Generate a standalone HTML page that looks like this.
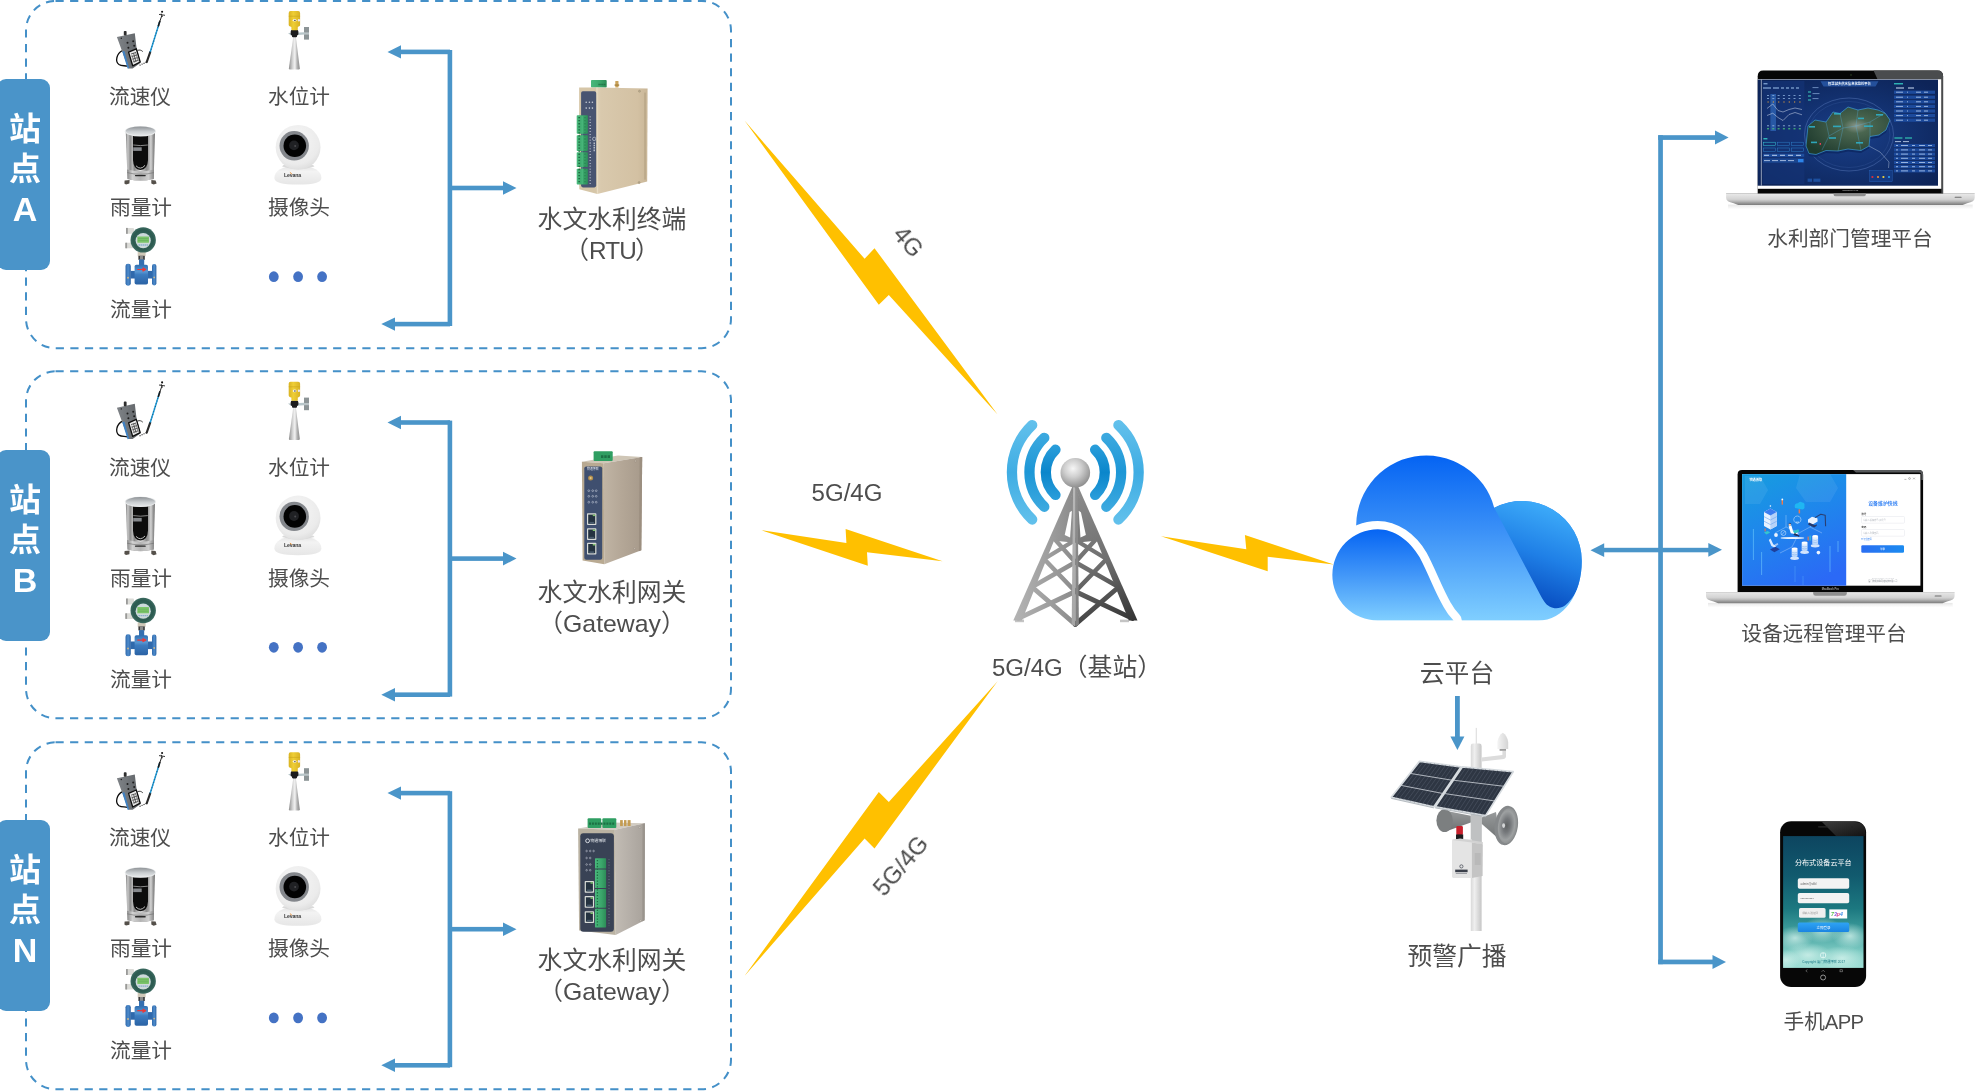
<!DOCTYPE html>
<html lang="zh-CN">
<head>
<meta charset="utf-8">
<title>水文水利监测系统拓扑图</title>
<style>
html,body{margin:0;padding:0;background:#fff;}
body{width:1978px;height:1091px;position:relative;overflow:hidden;font-family:"Liberation Sans","Noto Sans CJK SC",sans-serif;color:#4d4d4d;}
#stage{position:absolute;left:0;top:0;width:1978px;height:1091px;}
.t{position:absolute;white-space:nowrap;text-align:center;transform:translateX(-50%);line-height:1;}
.t,.rot,.tab,svg{will-change:transform;}
.latU{font-size:.98em;letter-spacing:-.035em;margin-right:-.035em;}
.latN{font-size:.97em;}
.s21{font-size:20.7px;}
.s25{font-size:24.8px;}
.tab{position:absolute;left:-3px;width:53.2px;height:191px;border-radius:9px;background:#4a94c9;color:#fff;font-weight:700;font-size:32px;line-height:40px;text-align:center;box-sizing:border-box;padding-left:3px;}
.tab span{display:block;}
.rot{position:absolute;white-space:nowrap;line-height:1;font-size:24.5px;transform-origin:50% 50%;}
svg text{font-family:"Liberation Sans","Noto Sans CJK SC",sans-serif;}
</style>
</head>
<body>
<svg id="stage" width="1978" height="1091" viewBox="0 0 1978 1091">
<defs>
  <g id="arrowsL">
    <!-- bracket with arrows, local origin = station box top (y=0) -->
    <rect x="447.6" y="50" width="4.6" height="276" fill="#4a95c9"/>
    <rect x="399" y="49.6" width="51" height="4.6" fill="#4a95c9"/>
    <polygon points="387.5,51.9 401,45.2 401,58.6" fill="#4a95c9"/>
    <rect x="393" y="321.8" width="57" height="4.6" fill="#4a95c9"/>
    <polygon points="381.3,324.1 395,317.4 395,330.8" fill="#4a95c9"/>
    <rect x="450" y="185.7" width="54" height="4.6" fill="#4a95c9"/>
    <polygon points="516.5,188 503,181.2 503,194.8" fill="#4a95c9"/>
  </g>
</defs>
<!-- station boxes -->
<g fill="none" stroke="#4490c8" stroke-width="2" stroke-dasharray="8.2 6.4">
  <rect x="26" y="0.9" width="705" height="347.3" rx="29.5" ry="29.5"/>
  <rect x="26" y="371.3" width="705" height="347" rx="29.5" ry="29.5"/>
  <rect x="26" y="742.3" width="705" height="347" rx="29.5" ry="29.5"/>
</g>
<use href="#arrowsL" x="0" y="0"/>
<use href="#arrowsL" x="0" y="370.6"/>
<use href="#arrowsL" x="0" y="741.2"/>
<!-- lightning bolts -->
<g fill="#ffc000">
  <polygon points="744.5,120.6 864.6,258.8 874.5,248.2 997.6,414.5 888.8,295 878.8,304.7"/>
  <polygon points="761.4,530.2 846.4,543.1 845.6,529.1 942.6,561.2 867,552.2 867.8,565.7"/>
  <polygon points="744.5,976 878.8,792.1 888.8,802.1 997.6,681.2 874.5,848.4 864.6,838.4"/>
</g>
<!-- right side arrows -->
<g fill="#4a95c9">
  <rect x="1658.2" y="135.2" width="4.7" height="829"/>
  <rect x="1658.2" y="135.2" width="58" height="4.7"/>
  <polygon points="1728.6,137.5 1715,130.6 1715,144.4"/>
  <rect x="1658.2" y="959.6" width="56" height="4.7"/>
  <polygon points="1726,962 1712.5,955.1 1712.5,968.9"/>
  <rect x="1603" y="547.8" width="106" height="4.5"/>
  <polygon points="1590.5,550.2 1604.2,543.3 1604.2,557.1"/>
  <polygon points="1722,549.8 1708.3,542.9 1708.3,556.7"/>
  <!-- cloud -> broadcast arrow -->
  <rect x="1455" y="696" width="4.8" height="41.5"/>
  <polygon points="1457.4,750 1450.4,736.4 1464.4,736.4"/>
</g>
</svg>
<div class="tab" style="top:79px"><div style="margin-top:30px"><span>站</span><span>点</span><span style="font-size:34px">A</span></div></div>
<div class="tab" style="top:450px"><div style="margin-top:30px"><span>站</span><span>点</span><span style="font-size:34px">B</span></div></div>
<div class="tab" style="top:820px"><div style="margin-top:30px"><span>站</span><span>点</span><span style="font-size:34px">N</span></div></div>

<!-- station A labels -->
<div class="t s21" id="a1" style="left:140.4px;top:86.5px">流速仪</div>
<div class="t s21" id="a2" style="left:298.8px;top:86.5px">水位计</div>
<div class="t s21" id="a3" style="left:140.9px;top:197.5px">雨量计</div>
<div class="t s21" id="a4" style="left:298.5px;top:197.5px">摄像头</div>
<div class="t s21" id="a5" style="left:140.5px;top:299.5px">流量计</div>
<div class="t s25" id="a6" style="left:612.4px;top:205px;line-height:30.5px">水文水利终端<br>（<span class="latU">RTU</span>）</div>
<!-- station B labels -->
<div class="t s21" style="left:140.4px;top:457.7px">流速仪</div>
<div class="t s21" style="left:298.8px;top:457.7px">水位计</div>
<div class="t s21" style="left:140.9px;top:568.6px">雨量计</div>
<div class="t s21" style="left:298.5px;top:568.6px">摄像头</div>
<div class="t s21" style="left:140.5px;top:670.1px">流量计</div>
<div class="t s25" id="b6" style="left:612px;top:578px;line-height:30.5px">水文水利网关<br>（<span>Gateway</span>）</div>
<!-- station N labels -->
<div class="t s21" style="left:140.4px;top:827.7px">流速仪</div>
<div class="t s21" style="left:298.8px;top:827.7px">水位计</div>
<div class="t s21" style="left:140.9px;top:938.7px">雨量计</div>
<div class="t s21" style="left:298.5px;top:938.7px">摄像头</div>
<div class="t s21" style="left:140.5px;top:1040.7px">流量计</div>
<div class="t s25" id="n6" style="left:612px;top:946px;line-height:30.5px">水文水利网关<br>（<span>Gateway</span>）</div>

<!-- middle labels -->
<div class="t s25" id="m1" style="left:846.5px;top:480.5px"><span class="latN">5G/4G</span></div>
<div class="t s25" id="m2" style="left:1077px;top:656px"><span class="latN">5G/4G</span>（基站）</div>
<div class="t s25" id="m3" style="left:1457.4px;top:662.2px">云平台</div>
<div class="t s25" id="m4" style="left:1456.9px;top:944.8px">预警广播</div>
<div class="rot s25" id="r1" style="left:908.4px;top:241.5px;transform:translate(-50%,-50%) rotate(49.3deg)"><span class="latN">4G</span></div>
<div class="rot s25" id="r2" style="left:900.9px;top:865.6px;transform:translate(-50%,-50%) rotate(-49.3deg)"><span class="latN">5G/4G</span></div>

<!-- right labels -->
<div class="t s21" id="p1" style="left:1850.1px;top:228.5px">水利部门管理平台</div>
<div class="t s21" id="p2" style="left:1824px;top:623.5px">设备远程管理平台</div>
<div class="t s21" id="p3" style="left:1822.8px;top:1012.1px">手机<span class="latU">APP</span></div>
<svg style="position:absolute;left:0;top:0" width="760" height="1091" viewBox="0 0 760 1091">
<defs>
  <linearGradient id="gBody" x1="0" y1="0" x2="1" y2="0"><stop offset="0" stop-color="#7f8387"/><stop offset="1" stop-color="#5f6367"/></linearGradient>
  <linearGradient id="gHorn" x1="0" y1="0" x2="1" y2="0"><stop offset="0" stop-color="#8f8f8f"/><stop offset=".35" stop-color="#d6d6d6"/><stop offset=".55" stop-color="#f2f2f2"/><stop offset=".75" stop-color="#b4b4b4"/><stop offset="1" stop-color="#8a8a8a"/></linearGradient>
  <linearGradient id="gYel" x1="0" y1="0" x2="1" y2="0"><stop offset="0" stop-color="#d9b322"/><stop offset=".4" stop-color="#efce35"/><stop offset="1" stop-color="#d8b224"/></linearGradient>
  <linearGradient id="gSteel" x1="0" y1="0" x2="1" y2="0"><stop offset="0" stop-color="#7e7e7e"/><stop offset=".07" stop-color="#c9c9c9"/><stop offset=".15" stop-color="#8f8f8f"/><stop offset=".23" stop-color="#b4b4b4"/><stop offset=".3" stop-color="#8a8a8a"/><stop offset=".5" stop-color="#e4e4e4"/><stop offset=".7" stop-color="#8c8c8c"/><stop offset=".77" stop-color="#9d9d9d"/><stop offset=".86" stop-color="#d4d4d4"/><stop offset=".93" stop-color="#9a9a9a"/><stop offset="1" stop-color="#6e6e6e"/></linearGradient>
  <linearGradient id="gSteelLo" x1="0" y1="0" x2="1" y2="0"><stop offset="0" stop-color="#8a8a8a"/><stop offset=".2" stop-color="#d2d2d2"/><stop offset=".5" stop-color="#b4b4b4"/><stop offset=".8" stop-color="#cfcfcf"/><stop offset="1" stop-color="#858585"/></linearGradient>
  <linearGradient id="gRim" x1="0" y1="0" x2="0" y2="1"><stop offset="0" stop-color="#8f9397"/><stop offset=".55" stop-color="#c9cdd0"/><stop offset="1" stop-color="#e6e8ea"/></linearGradient>
  <radialGradient id="gCamHead" cx=".45" cy=".35" r=".75"><stop offset="0" stop-color="#f7f7f7"/><stop offset=".7" stop-color="#ebebeb"/><stop offset="1" stop-color="#d6d6d6"/></radialGradient>
  <linearGradient id="gCamBase" x1="0" y1="0" x2="0" y2="1"><stop offset="0" stop-color="#e3e3e3"/><stop offset=".3" stop-color="#f3f3f3"/><stop offset="1" stop-color="#e6e6e6"/></linearGradient>
  <linearGradient id="gBlue" x1="0" y1="0" x2="0" y2="1"><stop offset="0" stop-color="#2f6fb2"/><stop offset=".35" stop-color="#5a97d2"/><stop offset=".5" stop-color="#3c7cc0"/><stop offset="1" stop-color="#2a62a4"/></linearGradient>
  <linearGradient id="gFlange" x1="0" y1="0" x2="1" y2="0"><stop offset="0" stop-color="#2e67aa"/><stop offset=".5" stop-color="#4e8ccc"/><stop offset="1" stop-color="#2c63a4"/></linearGradient>
  <radialGradient id="gGreen" cx=".5" cy=".5" r=".5"><stop offset="0" stop-color="#3a6e62"/><stop offset=".8" stop-color="#2c5a50"/><stop offset="1" stop-color="#3d6c62"/></radialGradient>

  <g id="sensors">
    <!-- 流速仪 -->
    <g transform="translate(105,5)">
      <path d="M17.5 45.5 C11.5 48.5 9.8 56.5 14 59.5 C16.5 61.2 19.5 60.4 22.5 61.2" fill="none" stroke="#0c0c0c" stroke-width="1.3"/>
      <path d="M32.6 45.4 C34.5 44.6 36.5 45.2 37.8 46.6" fill="none" stroke="#111" stroke-width=".8"/>
      <polygon points="11.9,32.1 29.8,28.2 31.4,41.7 35.6,57.7 27.6,63.5 23.4,63.5" fill="url(#gBody)"/>
      <polygon points="17.3,46.6 19.4,46 24.2,63.2 22.6,63.6" fill="#3f82c4"/>
      <rect x="18.8" y="26" width="2.8" height="4.6" rx=".8" fill="#2e2e2e"/>
      <g fill="#1d1d1d"><circle cx="22.5" cy="37.8" r="1"/><circle cx="28.2" cy="36.2" r="1"/><circle cx="23.4" cy="42.7" r="1"/><circle cx="29.2" cy="40.7" r="1"/><circle cx="16.3" cy="33.3" r=".7"/></g>
      <polygon points="23.6,47.2 31.3,43.8 35.2,57 27.7,60.8" fill="#e9e9e9" stroke="#0d0d0d" stroke-width="1.3" stroke-linejoin="round"/>
      <path d="M26 49 L31 47.4 M26.6 51.6 L31.8 50 M27.4 54.2 L32.6 52.6 M28.2 56.8 L33.2 55.2 M28.5 48 L31 57" stroke="#4e4e4e" stroke-width=".9" fill="none"/>
      <path d="M26.8 50 L29.4 57.6 M30.6 47.6 L33.4 56.2" stroke="#5a5a5a" stroke-width=".7" fill="none"/>
      <path d="M34.6 60.3 L41.7 57" stroke="#111" stroke-width="1.1" stroke-dasharray="1 1.2" fill="none"/>
      <path d="M41.7 57.1 L45.2 47.1" stroke="#2a2a2a" stroke-width="2.1" stroke-linecap="round"/>
      <path d="M45.2 47.1 L54.5 17.3" stroke="#1b9ad8" stroke-width="1.5"/>
      <path d="M45.2 47.1 L54.5 17.3" stroke="#123" stroke-width="1.5" stroke-dasharray=".6 2.2" opacity=".55"/>
      <path d="M53.2 21.5 L55 15.7" stroke="#1a1a1a" stroke-width="1.6"/>
      <path d="M54.5 17.3 L56.9 10.5" stroke="#222" stroke-width="1"/>
      <path d="M54 9.4 L60 10.3 M56.2 8.6 L57.4 12" stroke="#222" stroke-width=".9"/>
      <circle cx="57.1" cy="6.8" r="1.05" fill="#111"/>
    </g>
    <!-- 水位计 -->
    <g transform="translate(265,5)">
      <rect x="39" y="22" width="5" height="12.6" fill="#8c9496"/>
      <rect x="39" y="27.4" width="5" height="2.2" fill="#b9c3c6"/>
      <polygon points="23,27.9 39.4,27.2 39.4,29.6 26,30.4" fill="#b7c6ca"/>
      <polygon points="28.3,31.5 30.8,31.5 34.8,63.3 34.2,64.4 24.4,64.4 23.9,63.3" fill="url(#gHorn)"/>
      <path d="M25.7 26.6 Q25.7 24.8 27.5 24.8 H31.6 Q33.4 24.8 33.4 26.6 V29 Q33.4 30.2 32 30.4 V31.4 Q32 32.2 31 32.2 H28 Q27 32.2 27 31.4 V30.4 Q25.7 30.2 25.7 29 Z" fill="#1c1c1e"/>
      <path d="M23.7 8 Q23.7 6.1 25.6 6.1 H33.2 Q35.1 6.1 35.1 8 V20 Q35.1 21.2 33.6 21.6 L32.8 22 V24.6 Q32.8 25.2 32 25.2 H27.2 Q26.4 25.2 26.4 24.6 V22 L25.2 21.6 Q23.7 21.2 23.7 20 Z" fill="url(#gYel)"/>
      <path d="M23.7 11.2 H35.1" stroke="#c9a51d" stroke-width=".6"/>
      <ellipse cx="29.6" cy="15.3" rx="1.9" ry="1.3" fill="#f3efe6"/><circle cx="29.9" cy="15.4" r=".7" fill="#333"/>
      <ellipse cx="33.9" cy="15.2" rx="1.1" ry="1.3" fill="#ece6f0"/>
    </g>
    <!-- 雨量计 -->
    <g transform="translate(105,115)">
      <path d="M19.6 65.4 L19.4 68.4 L21 69.4 L24.4 68.6 L24.6 65 Z" fill="#55504a"/>
      <path d="M46.3 65 L46.3 68.4 L48.6 69.6 L51.6 68.6 L50.6 65.4 Z" fill="#55504a"/>
      <path d="M20.8 17 L22.5 64 Q35.4 67.4 48.7 64 L50 17 Z" fill="url(#gSteel)"/>
      <path d="M22.1 54.5 L22.5 64 Q35.4 67.4 48.7 64 L49 54.5 Q35.4 58 22.1 54.5 Z" fill="url(#gSteelLo)"/>
      <path d="M28 21 V45 Q28.4 54.8 35.4 55 Q42.6 54.8 43 45 V21 Z" fill="#0c0c0c"/><path d="M31 50.8 Q35.4 55.6 40 50.4" stroke="#dcdcdc" stroke-width="1" fill="none" opacity=".85"/>
      <path d="M28.3 30 Q35.4 31.2 42.8 30" stroke="#bdbdbd" stroke-width=".7" fill="none"/>
      <rect x="28.2" y="32.3" width="8.5" height="3.6" fill="#85888c"/>
      <path d="M22.2 57.6 Q35.4 61 48.9 57.6" stroke="#6d6d6d" stroke-width=".6" fill="none"/>
      <rect x="30" y="59.9" width="10.7" height="1.3" rx=".4" fill="#2a2a2a"/>
      <ellipse cx="35.4" cy="16.2" rx="15.6" ry="5.3" fill="#e9ebec"/>
      <ellipse cx="35.4" cy="16.1" rx="14.6" ry="4.6" fill="url(#gRim)"/>
    </g>
    <!-- 摄像头 -->
    <g transform="translate(260,115)">
      <path d="M14.4 63 C14.4 55.5 22 51 37.9 51 C53.8 51 61.4 55.5 61.4 63 C61.4 67.4 54 69.6 37.9 69.6 C21.8 69.6 14.4 67.4 14.4 63 Z" fill="url(#gCamBase)"/>
      <path d="M22 51.5 Q38 56.5 54.5 51.5 L53 50 H23.5 Z" fill="#dadada"/>
      <circle cx="38.1" cy="32.3" r="22.4" fill="url(#gCamHead)"/>
      <circle cx="34.2" cy="30.8" r="14.7" fill="#84878c"/>
      <circle cx="34.8" cy="30.8" r="11.3" fill="#030303"/>
      <circle cx="34" cy="30.4" r="4.9" fill="#202124"/>
      <circle cx="35.2" cy="30.9" r="1" fill="#4a4a4e"/>
      <text x="32.6" y="61.9" font-size="5.2" font-weight="700" text-anchor="middle" fill="#3a3a3a" style="letter-spacing:-.15px">Levana</text>
      <path d="M30.2 57.6 L31.6 58.8" stroke="#e88a2a" stroke-width=".9" stroke-linecap="round"/>
    </g>
    <!-- 流量计 -->
    <g transform="translate(105,220)">
      <rect x="21" y="7.9" width="8" height="5.9" rx="1" fill="#dcdcd8"/><rect x="21" y="7.9" width="1.8" height="5.9" fill="#9a9a98"/>
      <rect x="20.3" y="22.7" width="8" height="5.6" rx="1" fill="#dcdcd8"/><rect x="20.3" y="22.7" width="1.8" height="5.6" fill="#9a9a98"/>
      <rect x="32.7" y="31.8" width="7.9" height="4.4" fill="#cfc8b8"/>
      <rect x="33.4" y="35.8" width="6.4" height="4" fill="#3a3a3a"/><rect x="35" y="35.8" width="3.2" height="4" fill="#8a8a8a"/>
      <rect x="34" y="39.5" width="5.2" height="6.4" fill="#346fb0"/>
      <rect x="25.5" y="50.9" width="22" height="7.6" fill="#2f69ac"/>
      <rect x="29.6" y="44.7" width="13.4" height="19.9" rx="1.8" fill="url(#gBlue)"/>
      <rect x="20.5" y="43.7" width="5.3" height="22" rx="2.4" fill="url(#gFlange)"/>
      <rect x="47" y="44" width="4.4" height="21.4" rx="2.1" fill="url(#gFlange)"/>
      <circle cx="23" cy="57.8" r="1" fill="#c9b48a"/><circle cx="49.2" cy="57.4" r=".9" fill="#c9b48a"/>
      <path d="M32.3 49.5 H38 V48.1 L40.7 49.5 L38 50.9 V49.5" stroke="#e83a3a" stroke-width="1.2" fill="#e83a3a" stroke-linejoin="round"/>
      <circle cx="38.2" cy="19.9" r="12.7" fill="url(#gGreen)"/>
      <circle cx="38.2" cy="20.6" r="7.6" fill="#cdd9da"/>
      <rect x="32.3" y="16.5" width="11.7" height="6.2" rx=".6" fill="#7cc56a"/>
      <path d="M33 18.6 H43.4 M33 20.6 H43.4" stroke="#5aa552" stroke-width=".5"/>
      <path d="M33.6 25 H42.8" stroke="#7ba3c8" stroke-width="1.3" stroke-dasharray="1.2 .8"/>
    </g>
    <!-- dots -->
    <g fill="#4472c4"><ellipse cx="273.8" cy="276.7" rx="4.9" ry="5.4"/><ellipse cx="298.1" cy="276.7" rx="4.9" ry="5.4"/><ellipse cx="322.1" cy="276.7" rx="4.9" ry="5.4"/></g>
  </g>
</defs>
<use href="#sensors" x="0" y="0"/>
<use href="#sensors" x="0" y="370.6"/>
<use href="#sensors" x="0" y="741.2"/>
</svg>
<svg style="position:absolute;left:560px;top:0" width="110" height="1091" viewBox="560 0 110 1091">
<defs>
  <linearGradient id="rtuSide" x1="0" y1="0" x2="1" y2="0"><stop offset="0" stop-color="#e0d1b6"/><stop offset=".08" stop-color="#d9c9ad"/><stop offset=".8" stop-color="#d3c1a3"/><stop offset="1" stop-color="#c9b697"/></linearGradient>
  <linearGradient id="gwbSide" x1="0" y1="0" x2="1" y2="0"><stop offset="0" stop-color="#c0b4a4"/><stop offset=".5" stop-color="#b3a696"/><stop offset="1" stop-color="#a79a8b"/></linearGradient>
  <linearGradient id="gwnSide" x1="0" y1="0" x2="1" y2="0"><stop offset="0" stop-color="#c2bcb4"/><stop offset=".5" stop-color="#b5afa8"/><stop offset="1" stop-color="#a8a29b"/></linearGradient>
  <linearGradient id="grn" x1="0" y1="0" x2="1" y2="0"><stop offset="0" stop-color="#49b97c"/><stop offset=".6" stop-color="#3aa56a"/><stop offset="1" stop-color="#2c8c57"/></linearGradient>
  <g id="rj45"><rect x="0" y="0" width="9.4" height="11.8" rx=".8" fill="#d9dcd8"/><rect x="1.2" y="1.3" width="7" height="9.2" fill="#243240"/><rect x="5.8" y="1.3" width="2.4" height="1.5" fill="#7fc46a"/><rect x="2.4" y="8.6" width="4.6" height="1.9" fill="#46586a"/></g>
</defs>
<!-- RTU (station A) -->
<g>
  <rect x="591" y="80.1" width="15.7" height="7.4" rx=".8" fill="url(#grn)"/>
  <path d="M598.5 84.5 h7 " stroke="#1f6e43" stroke-width="1.6" stroke-dasharray="1.2 .7"/>
  <rect x="615.3" y="81" width="3.2" height="6.6" rx=".6" fill="#c9a25a"/><rect x="614.6" y="84.4" width="4.6" height="1.4" fill="#a8843f"/>
  <polygon points="596.9,87.6 647.6,88.5 647.2,181.4 597.4,194" fill="url(#rtuSide)"/>
  <polygon points="579.1,87.6 596.9,87.6 597.4,194 579.3,189.2" fill="#d6c6a8"/>
  <path d="M596.9 87.6 L597.4 194" stroke="#e8dcc4" stroke-width="1.2"/>
  <path d="M645 92.6 V179.6" stroke="#ab9a7b" stroke-width=".9"/>
  <circle cx="639.5" cy="91.2" r="1" fill="#b9ab90" stroke="#8f8166" stroke-width=".4"/><circle cx="639.1" cy="182.6" r="1" fill="#b9ab90" stroke="#8f8166" stroke-width=".4"/>
  <rect x="581.1" y="91.2" width="15.1" height="96.2" rx="1.8" fill="#485471"/>
  <g fill="#c9ced8"><circle cx="586.2" cy="102.2" r=".8"/><circle cx="589.4" cy="102.2" r=".8"/><circle cx="592.4" cy="102.2" r=".8"/><circle cx="586.2" cy="108.1" r=".8"/><circle cx="589.4" cy="108.1" r=".8"/><circle cx="592.4" cy="108.1" r=".8"/></g>
  <path d="M590.2 116.5 V185" stroke="#cdd3de" stroke-width="1.3" stroke-dasharray=".8 2.1"/>
  <circle cx="594.2" cy="138.9" r="1.7" fill="none" stroke="#d5dae3" stroke-width=".6"/>
  <path d="M594.2 142.5 V152" stroke="#cfd5df" stroke-width="1.2" stroke-dasharray="1.5 .8"/>
  <g fill="url(#grn)"><rect x="576.7" y="115.3" width="11.2" height="18.5" rx=".7"/><rect x="576.7" y="135.3" width="11.2" height="15.7" rx=".7"/><rect x="576.7" y="152.2" width="11.2" height="14.9" rx=".7"/><rect x="576.7" y="168.7" width="11.2" height="15.7" rx=".7"/></g>
  <path d="M579.2 117 V183" stroke="#1f6e43" stroke-width="1.7" stroke-dasharray="1.3 1.75"/>
  <path d="M585 117 V183" stroke="#2a8553" stroke-width="1.3" stroke-dasharray="1.3 1.75"/>
  <path d="M582.2 116 V184" stroke="#5fcf92" stroke-width=".7" opacity=".7"/>
</g>
<!-- Gateway (station B) -->
<g>
  <polygon points="581.9,461.7 603.7,463.2 642.2,456.9 618,455.4" fill="#cfc6b6"/>
  <rect x="593.6" y="451.3" width="19.1" height="9.6" rx=".9" fill="#2f9e62"/>
  <path d="M601 456.6 h9.5" stroke="#1c7044" stroke-width="2.6" stroke-dasharray="2.4 .9"/>
  <polygon points="603.7,463.2 642.2,456.9 641.3,550.3 604.3,564.2" fill="url(#gwbSide)"/>
  <polygon points="639.6,457.3 642.2,456.9 641.3,550.3 638.9,551.2" fill="#9c8f80"/>
  <polygon points="581.9,461.7 603.7,463.2 604.3,564.2 582.6,560.4" fill="#b9aa92"/>
  <circle cx="635.6" cy="461" r="1" fill="#c6bcae" stroke="#8d8274" stroke-width=".4"/><circle cx="634.6" cy="548.6" r="1" fill="#c6bcae" stroke="#8d8274" stroke-width=".4"/>
  <rect x="584.3" y="466.5" width="17.9" height="93.3" rx="2" fill="#3f4f6f"/>
  <text x="587" y="470.4" font-size="2.9" fill="#e3e7ee">物通博联</text>
  <circle cx="590.6" cy="478.1" r="2.5" fill="#b48f4c"/><circle cx="590.6" cy="478.1" r="1.1" fill="#e3c98a"/>
  <g fill="none" stroke="#cfd5e0" stroke-width=".5"><circle cx="588.8" cy="490.7" r=".9"/><circle cx="592.7" cy="490.7" r=".9"/><circle cx="596.2" cy="490.7" r=".9"/><circle cx="588.8" cy="496.3" r=".9"/><circle cx="592.7" cy="496.3" r=".9"/><circle cx="596.2" cy="496.3" r=".9"/><circle cx="588.8" cy="502.2" r=".9"/><circle cx="592.7" cy="502.2" r=".9"/><circle cx="596.2" cy="502.2" r=".9"/></g>
  <use href="#rj45" x="587" y="513.3"/><use href="#rj45" x="587" y="528.2"/><use href="#rj45" x="587" y="542.7"/>
</g>
<!-- Gateway (station N) -->
<g>
  <polygon points="578.1,828.5 614.8,829.7 644.9,823.3 612,822.4" fill="#d2ccc2"/>
  <rect x="587.6" y="818.3" width="13.6" height="9.8" rx="1" fill="#2f9e62"/><rect x="602.4" y="818.3" width="13.9" height="9.8" rx="1" fill="#2f9e62"/>
  <path d="M589 823.6 h26" stroke="#1c7044" stroke-width="2.2" stroke-dasharray="2 .9"/>
  <g fill="#c49c52"><rect x="620.1" y="820.1" width="2.7" height="6"/><rect x="624" y="820.1" width="2.5" height="6"/><rect x="627.6" y="820.1" width="3" height="6"/></g>
  <polygon points="614.8,829.7 644.9,823.3 644.6,920.3 615.7,935.1" fill="url(#gwnSide)"/>
  <polygon points="642.5,823.8 644.9,823.3 644.6,920.3 642.3,921.5" fill="#9a948d"/>
  <polygon points="578.1,828.5 614.8,829.7 615.7,935.1 579.1,930.6" fill="#bab2a2"/>
  <circle cx="639.8" cy="827.6" r="1" fill="#cbc5bc" stroke="#8c867e" stroke-width=".4"/><circle cx="640.4" cy="920.6" r="1" fill="#cbc5bc" stroke="#8c867e" stroke-width=".4"/>
  <rect x="580.3" y="833.2" width="33.6" height="98.6" rx="3" fill="#394255"/>
  <circle cx="587.6" cy="840.8" r="1.9" fill="none" stroke="#e8ebf0" stroke-width=".9"/>
  <text x="590.4" y="842.3" font-size="3.9" fill="#e8ebf0">物通博联</text>
  <g fill="none" stroke="#c8cdd8" stroke-width=".5"><circle cx="586.6" cy="851" r=".8"/><circle cx="590.2" cy="851" r=".8"/><circle cx="593.6" cy="851" r=".8"/><circle cx="586.6" cy="858" r=".8"/><circle cx="590.2" cy="858" r=".8"/><circle cx="586.6" cy="864.5" r=".8"/><circle cx="590.2" cy="864.5" r=".8"/><circle cx="586.6" cy="870.2" r=".8"/><circle cx="590.2" cy="870.2" r=".8"/></g>
  <g fill="url(#grn)"><rect x="595" y="858.3" width="11.1" height="10.2" rx=".6"/><rect x="595" y="869.6" width="11.1" height="18.5" rx=".6"/><rect x="595" y="888.9" width="11.1" height="18.8" rx=".6"/><rect x="595" y="908.7" width="11.1" height="18.7" rx=".6"/></g>
  <path d="M597.4 860 V926.5" stroke="#1f6e43" stroke-width="1.3" stroke-dasharray="1.3 1.62"/>
  <path d="M609 859 V926" stroke="#7d8596" stroke-width="1.1" stroke-dasharray=".6 2.3"/>
  <use href="#rj45" x="584.7" y="880.9"/><use href="#rj45" x="584.7" y="896"/><use href="#rj45" x="584.7" y="911.2"/>
</g>
</svg>
<svg style="position:absolute;left:1000px;top:410px" width="150" height="225" viewBox="1000 410 150 225">
<defs>
  <linearGradient id="twL" gradientUnits="userSpaceOnUse" x1="1017" y1="0" x2="1075" y2="0"><stop offset="0" stop-color="#b2b2b2"/><stop offset=".6" stop-color="#9c9c9c"/><stop offset="1" stop-color="#8a8a8a"/></linearGradient>
  <linearGradient id="twR" gradientUnits="userSpaceOnUse" x1="1075" y1="490" x2="1134" y2="620"><stop offset="0" stop-color="#8c8c8c"/><stop offset=".55" stop-color="#6e6e6e"/><stop offset="1" stop-color="#343434"/></linearGradient>
  <linearGradient id="twCL" x1="0" y1="0" x2="0" y2="1"><stop offset="0" stop-color="#b8b8b8"/><stop offset="1" stop-color="#a6a6a6"/></linearGradient>
  <linearGradient id="twCR" x1="0" y1="0" x2="0" y2="1"><stop offset="0" stop-color="#909090"/><stop offset="1" stop-color="#808080"/></linearGradient>
  <radialGradient id="twBall" cx=".42" cy=".36" r=".65"><stop offset="0" stop-color="#f6f6f6"/><stop offset=".45" stop-color="#cfcfcf"/><stop offset="1" stop-color="#8f8f8f"/></radialGradient>
  <linearGradient id="wv1" gradientUnits="userSpaceOnUse" x1="0" y1="445" x2="0" y2="500"><stop offset="0" stop-color="#2a9edb"/><stop offset=".5" stop-color="#0b86cb"/><stop offset="1" stop-color="#2a9edb"/></linearGradient>
  <linearGradient id="wv2" gradientUnits="userSpaceOnUse" x1="0" y1="432" x2="0" y2="512"><stop offset="0" stop-color="#3eaae0"/><stop offset=".5" stop-color="#1d97d6"/><stop offset="1" stop-color="#3eaae0"/></linearGradient>
  <linearGradient id="wv3" gradientUnits="userSpaceOnUse" x1="0" y1="420" x2="0" y2="525"><stop offset="0" stop-color="#63c1ec"/><stop offset=".5" stop-color="#3fade3"/><stop offset="1" stop-color="#63c1ec"/></linearGradient>
</defs>
<g fill="none" stroke-width="10.3" stroke-linecap="round"><path d="M1055.5 449.7 A31.2 31.2 0 0 0 1055.5 494.9" stroke="url(#wv1)"/><path d="M1095.1 449.7 A31.2 31.2 0 0 1 1095.1 494.9" stroke="url(#wv1)"/><path d="M1044.3 437.8 A47.5 47.5 0 0 0 1044.3 506.8" stroke="url(#wv2)"/><path d="M1106.3 437.8 A47.5 47.5 0 0 1 1106.3 506.8" stroke="url(#wv2)"/><path d="M1032.2 425.1 A65.1 65.1 0 0 0 1032.2 519.5" stroke="url(#wv3)"/><path d="M1118.4 425.1 A65.1 65.1 0 0 1 1118.4 519.5" stroke="url(#wv3)"/></g>
<rect x="1015" y="619.6" width="9" height="2.6" fill="#c4c4c4"/><rect x="1120" y="619.6" width="9" height="2.6" fill="#c4c4c4"/>
<g fill="none"><polygon points="1075.3,487.0 1052.2,540.4 1075.3,542.8" fill="url(#twL)"/><polygon points="1071.9,510.7 1069.7,512.2 1064.7,535.0 1070.1,537.5" fill="#fff"/><path d="M1053.4 537.7 L1075.3 562.3" stroke="url(#twL)" stroke-width="4.3" stroke-linecap="round"/><path d="M1075.3 540.0 L1044.1 559.0" stroke="url(#twL)" stroke-width="4.3" stroke-linecap="round"/><path d="M1044.1 559.0 L1075.3 591.5" stroke="url(#twL)" stroke-width="4.6" stroke-linecap="round"/><path d="M1075.3 562.3 L1032.0 587.0" stroke="url(#twL)" stroke-width="4.6" stroke-linecap="round"/><path d="M1032.0 587.0 L1075.3 624.3" stroke="url(#twL)" stroke-width="4.9" stroke-linecap="round"/><path d="M1075.3 591.5 L1018.5 618.4" stroke="url(#twL)" stroke-width="4.9" stroke-linecap="round"/><polygon points="1075.3,487.0 1098.5,540.4 1075.3,542.8" fill="url(#twR)"/><polygon points="1078.7,510.7 1080.9,512.2 1085.9,535.0 1080.5,537.5" fill="#fff"/><path d="M1097.3 537.7 L1075.3 562.3" stroke="url(#twR)" stroke-width="4.3" stroke-linecap="round"/><path d="M1075.3 540.0 L1106.6 559.0" stroke="url(#twR)" stroke-width="4.3" stroke-linecap="round"/><path d="M1106.6 559.0 L1075.3 591.5" stroke="url(#twR)" stroke-width="4.6" stroke-linecap="round"/><path d="M1075.3 562.3 L1118.7 587.0" stroke="url(#twR)" stroke-width="4.6" stroke-linecap="round"/><path d="M1118.7 587.0 L1075.3 624.3" stroke="url(#twR)" stroke-width="4.9" stroke-linecap="round"/><path d="M1075.3 591.5 L1132.3 618.4" stroke="url(#twR)" stroke-width="4.9" stroke-linecap="round"/></g>
<polygon points="1072.2,487.0 1075.6,487.0 1021.9,620.4 1013.3,620.4" fill="url(#twL)"/><polygon points="1075.0,487.0 1078.4,487.0 1137.5,620.4 1128.9,620.4" fill="url(#twR)"/><polygon points="1073.1,487.0 1075.3,487.0 1075.3,626.4 1071.7,624.6" fill="url(#twCL)"/><polygon points="1075.3,487.0 1077.5,487.0 1078.9,624.6 1075.3,626.4" fill="url(#twCR)"/>
<circle cx="1075.3" cy="472.7" r="14.8" fill="url(#twBall)"/>
</svg>
<svg style="position:absolute;left:1320px;top:445px;overflow:visible" width="275" height="185" viewBox="1320 445 275 185">
<defs>
  <linearGradient id="cMain" gradientUnits="userSpaceOnUse" x1="0" y1="455" x2="0" y2="621"><stop offset="0" stop-color="#0463f3"/><stop offset=".45" stop-color="#3a90f7"/><stop offset="1" stop-color="#80cfff"/></linearGradient>
  <linearGradient id="cLobe" gradientUnits="userSpaceOnUse" x1="0" y1="529" x2="0" y2="621"><stop offset="0" stop-color="#0564f3"/><stop offset=".5" stop-color="#4297f8"/><stop offset="1" stop-color="#80cfff"/></linearGradient>
  <linearGradient id="cDark" gradientUnits="userSpaceOnUse" x1="1566" y1="512" x2="1532" y2="606"><stop offset="0" stop-color="#3dabf9"/><stop offset=".5" stop-color="#1f7fe6"/><stop offset="1" stop-color="#0649bd"/></linearGradient>
</defs>
<clipPath id="cClip"><path d="M1400 620.6 H1538 C1564 620.6 1581.8 594 1581.8 561 A60 60 0 0 0 1494.2 507.7 A70.2 70.2 0 0 0 1356.4 531.5 Z"/></clipPath>
<path d="M1400 620.6 H1538 C1564 620.6 1581.8 594 1581.8 561 A60 60 0 0 0 1494.2 507.7 A70.2 70.2 0 0 0 1356.4 531.5 Z" fill="url(#cMain)"/>
<path clip-path="url(#cClip)" d="M1494.2 507.7 A60 60 0 0 1 1583 561 C1583 580 1576 597 1565 605.5 C1557.5 610.6 1548.8 608.4 1544.2 601.5 Q1541.8 598 1540.2 594.8 Z" fill="url(#cDark)"/>
<path id="lobe" d="M1377.8 620.6 A45.5 45.7 0 0 1 1377.8 529.2 C1394 529.2 1409.5 540 1419.5 557 C1427.4 571.5 1434.5 591 1443.6 607 Q1447.6 614.5 1453.6 620.6 Z" fill="url(#cLobe)" stroke="#fff" stroke-width="16.6" paint-order="stroke fill" stroke-linejoin="round"/>
<rect x="1320" y="620.7" width="275" height="12" fill="#fff"/>
<polygon points="1161,536.3 1246.3,549.3 1244.9,535 1333.7,564.4 1267.7,556.7 1267.7,571.3" fill="#ffc000"/>
</svg>
<svg style="position:absolute;left:1385px;top:720px" width="140" height="215" viewBox="1385 720 140 215">
<defs>
  <linearGradient id="bpPole" x1="0" y1="0" x2="1" y2="0"><stop offset="0" stop-color="#d9d9d9"/><stop offset=".35" stop-color="#efefef"/><stop offset="1" stop-color="#c6c6c6"/></linearGradient>
  <linearGradient id="bpHorn" x1="0" y1="0" x2="0" y2="1"><stop offset="0" stop-color="#979a9b"/><stop offset="1" stop-color="#6f7273"/></linearGradient>
  <radialGradient id="bpMouth" cx=".45" cy=".5" r=".55"><stop offset="0" stop-color="#5f6263"/><stop offset=".35" stop-color="#74777a"/><stop offset=".75" stop-color="#9da0a1"/><stop offset="1" stop-color="#8a8d8e"/></radialGradient>
  <linearGradient id="bpDome" x1="0" y1="0" x2="1" y2="0"><stop offset="0" stop-color="#f4f4f4"/><stop offset="1" stop-color="#d4d4d4"/></linearGradient>
</defs>
<!-- antenna + pole -->
<rect x="1475.8" y="727.9" width=".8" height="17" fill="#cfcfcf"/>
<path d="M1470.8 746 Q1470.8 743.6 1473.2 743.6 H1479.2 Q1481.6 743.6 1481.6 746 V931 H1470.8 Z" fill="url(#bpPole)"/>
<!-- arm + sensor -->
<path d="M1481.6 757.6 L1502.4 755 V751 H1506 V756.6 Q1506 758.6 1504 758.9 L1481.6 761.6 Z" fill="#dcdcdc"/>
<rect x="1499.6" y="748.4" width="6.4" height="2.4" fill="#9c9c9c"/>
<path d="M1497.4 749 V742 Q1498.4 735.5 1502.8 732.8 Q1507.2 735.5 1508.2 742 V749 Z" fill="url(#bpDome)"/>
<!-- left horn (behind panels) -->
<path d="M1470.8 815.8 L1447 811 L1447 831 L1470.8 822.4 Z" fill="url(#bpHorn)"/>
<ellipse cx="1444.6" cy="820.6" rx="8.2" ry="11.4" fill="#7c7f80"/>
<!-- right horn -->
<path d="M1481.6 817.6 L1496 812 L1500 840 L1481.6 823.8 Z" fill="url(#bpHorn)"/>
<ellipse cx="1506.3" cy="825.5" rx="11.6" ry="19.8" transform="rotate(8 1506.3 825.5)" fill="#85888a"/>
<ellipse cx="1507.6" cy="825.7" rx="9.6" ry="17.6" transform="rotate(8 1507.6 825.7)" fill="url(#bpMouth)"/>
<ellipse cx="1503.6" cy="825.6" rx="1.5" ry="2.4" fill="#d3d5d6"/>
<!-- pole segment between box and panel in front of horns -->
<rect x="1470.8" y="806" width="10.8" height="36" fill="#bfc1c2"/>
<!-- panels -->
<polygon points="1419.5,761.4 1460.9,766.9 1433.9,806.8 1391.3,797.3" fill="#2e3643" stroke="#d6dbdf" stroke-width="1.7" stroke-linejoin="round"/><path d="M1423.3 761.9 L1395.2 798.2 M1427.0 762.4 L1399.0 799.0 M1430.8 762.9 L1402.9 799.9 M1434.6 763.4 L1406.8 800.8 M1438.3 763.9 L1410.7 801.6 M1442.1 764.4 L1414.5 802.5 M1445.8 764.9 L1418.4 803.3 M1449.6 765.4 L1422.3 804.2 M1453.4 765.9 L1426.2 805.1 M1457.1 766.4 L1430.0 805.9" stroke="#596273" stroke-width=".45" fill="none"/><path d="M1410.1 773.4 L1451.9 780.2 M1400.7 785.3 L1442.9 793.5" stroke="#cfd4da" stroke-width=".8" fill="none"/>
<polygon points="1462.3,766.9 1513.2,771.7 1485.6,815.6 1435.3,806.8" fill="#2e3643" stroke="#d6dbdf" stroke-width="1.7" stroke-linejoin="round"/><path d="M1466.2 767.3 L1439.2 807.5 M1470.1 767.6 L1443.0 808.2 M1474.0 768.0 L1446.9 808.8 M1478.0 768.4 L1450.8 809.5 M1481.9 768.7 L1454.6 810.2 M1485.8 769.1 L1458.5 810.9 M1489.7 769.5 L1462.4 811.5 M1493.6 769.9 L1466.3 812.2 M1497.5 770.2 L1470.1 812.9 M1501.5 770.6 L1474.0 813.6 M1505.4 771.0 L1477.9 814.2 M1509.3 771.3 L1481.7 814.9" stroke="#596273" stroke-width=".45" fill="none"/><path d="M1453.3 780.2 L1504.0 786.3 M1444.3 793.5 L1494.8 801.0" stroke="#cfd4da" stroke-width=".8" fill="none"/>
<path d="M1391.3 798.4 L1433.9 807.9 M1435.3 807.9 L1485.6 816.7" stroke="#aeb4ba" stroke-width=".9" fill="none"/>
<!-- beacon -->
<rect x="1456.3" y="826" width="6.6" height="9" rx="1.2" fill="#c8202c"/><rect x="1456" y="834.4" width="7.2" height="5.2" fill="#1d1d1f"/>
<!-- box -->
<polygon points="1471.8,842.4 1482.8,844.2 1482.6,876 1471.8,878" fill="#c4c4c4"/>
<path d="M1474.8 854 h6 M1474.8 856 h6 M1474.8 858 h6 M1474.8 860 h6 M1474.8 862 h6 M1474.8 864 h6" stroke="#a2a2a2" stroke-width=".6"/>
<path d="M1452 840.6 Q1452 839.3 1453.4 839.3 H1471.8 V878 H1453.4 Q1452 878 1452 876.6 Z" fill="#e4e4e4"/>
<path d="M1452 839.9 L1460 838.6 L1482.8 842 L1482.8 844.2 L1471.8 842.4 Z" fill="#d2d2d2"/>
<circle cx="1461.4" cy="866.4" r="1.6" fill="none" stroke="#3a3f4a" stroke-width=".7"/>
<rect x="1455.2" y="869.6" width="12.4" height="2.6" fill="#3a3f4a"/>
<rect x="1455.8" y="873.2" width="11.2" height=".8" fill="#8c8f95"/>
</svg>
<svg style="position:absolute;left:1720px;top:60px" width="258" height="155" viewBox="1720 60 258 155">
<defs>
  <linearGradient id="lbBase" x1="0" y1="0" x2="0" y2="1"><stop offset="0" stop-color="#9b9b9b"/><stop offset=".07" stop-color="#e6e6e6"/><stop offset=".5" stop-color="#d3d3d3"/><stop offset=".66" stop-color="#bdbdbd"/><stop offset=".82" stop-color="#9c9c9c"/><stop offset="1" stop-color="#7c7c7c"/></linearGradient>
  <linearGradient id="lbShadow" x1="0" y1="0" x2="0" y2="1"><stop offset="0" stop-color="#dcdcdc"/><stop offset="1" stop-color="#ffffff"/></linearGradient>
  <radialGradient id="l1bg" cx=".5" cy=".52" r=".65"><stop offset="0" stop-color="#1a3f8a"/><stop offset=".55" stop-color="#12306e"/><stop offset="1" stop-color="#0d2458"/></radialGradient>
  <radialGradient id="l1map" cx=".6" cy=".4" r=".7"><stop offset="0" stop-color="#8a978a"/><stop offset=".22" stop-color="#4a6650"/><stop offset="1" stop-color="#1e3a2d"/></radialGradient>
  <g id="lbase">
    <rect x="2" y="11" width="244.6" height="4.6" fill="url(#lbShadow)" opacity=".7"/>
    <path d="M0 0 H248.6 V4.2 Q248.6 8.4 241 9.6 L236.5 11.3 H12.1 L7.6 9.6 Q0 8.4 0 4.2 Z" fill="url(#lbBase)"/>
  </g>
</defs>
<!-- lid -->
<path d="M1757.7 193.7 V76.2 Q1757.7 70.6 1763.3 70.6 H1937.5 Q1943.1 70.6 1943.1 76.2 V193.7 Z" fill="#060606"/>
<path d="M1873.5 70.6 H1937.5 Q1943.1 70.6 1943.1 76.2 V193.7 H1941.4 V79.2 H1877.5 Z" fill="#4a4c4e"/>
<circle cx="1851" cy="74.9" r=".7" fill="#3e5a2e"/>
<!-- white paste + screen -->
<rect x="1757.7" y="79.2" width="183.6" height="109.6" fill="#fff"/>
<rect x="1757.7" y="79.6" width="180.3" height="106.1" fill="url(#l1bg)"/>
<rect x="1760.9" y="79.6" width=".6" height="106" fill="#e8edf5"/>
<!-- left panel -->
<g>
  <rect x="1762.6" y="81" width="41.8" height="103" fill="#143374" opacity=".75"/>
  <rect x="1770.4" y="94" width="5.6" height="37" fill="#2c5fae" opacity=".85"/>
  <path d="M1763.5 83.8 h4 M1763 88 h8 M1773 88 h6 M1781 88 h3 M1786 88 h3 M1791 88 h3 M1796 88 h3" stroke="#9fc4ee" stroke-width="1"/>
  <path d="M1767 95.5 h36 M1767 98.5 h36" stroke="#8fb2e0" stroke-width=".8" stroke-dasharray="2 3.3"/>
  <path d="M1767.5 102 h34" stroke="#e6a23c" stroke-width="1.1" stroke-dasharray="1.2 4.1"/>
  <polyline points="1767,108.5 1772.8,104 1778,110.5 1783,112 1789,109.5 1795,108 1802,109.5" fill="none" stroke="#d5dff0" stroke-width=".5"/>
  <polyline points="1767,115.5 1772.8,113.2 1778,117.5 1783,120.5 1789,114.5 1795,112.5 1802,114.8" fill="none" stroke="#d5dff0" stroke-width=".5"/>
  <path d="M1767 125.8 h36" stroke="#a9c4ea" stroke-width=".8" stroke-dasharray="2 3.3"/>
  <path d="M1767 128.8 h36" stroke="#4fd07a" stroke-width="1" stroke-dasharray="2 3.3"/>
  <path d="M1763.4 138.8 h4" stroke="#38e0d0" stroke-width="1.1"/>
  <g fill="none" stroke="#2f7fc8" stroke-width=".5"><rect x="1763.6" y="142.2" width="12" height="3.4" stroke="#38c8d8"/><rect x="1777.6" y="142.2" width="12" height="3.4"/><rect x="1791.4" y="142.2" width="12" height="3.4"/><rect x="1763.6" y="148" width="12" height="3.4"/><rect x="1777.6" y="148" width="12" height="3.4"/><rect x="1791.4" y="148" width="12" height="3.4"/></g>
  <rect x="1763.2" y="153.8" width="41" height="3" fill="#1e4e9e"/>
  <path d="M1764 155.3 h39" stroke="#cfe0f5" stroke-width=".9" stroke-dasharray="5 3"/>
  <rect x="1763.2" y="158.4" width="41" height="4.4" fill="#1b4690"/>
  <rect x="1798" y="159" width="5.4" height="3.2" fill="#2d83e8"/>
  <path d="M1764 160.6 h32" stroke="#c4d6f0" stroke-width=".8" stroke-dasharray="6 2"/>
</g>
<!-- center -->
<g>
  <ellipse cx="1849" cy="134.5" rx="44.5" ry="36.5" fill="none" stroke="#5577b8" stroke-width=".9" opacity=".55"/>
  <ellipse cx="1849" cy="134.5" rx="41" ry="33" fill="none" stroke="#4468ac" stroke-width=".5" opacity=".5"/>
  <polygon points="1820.5,81.2 1878.5,81.2 1875.5,86.6 1823.5,86.6" fill="#24509c"/>
  <text x="1849.5" y="85.3" font-size="3.3" font-weight="700" fill="#f2f6fc" text-anchor="middle">智慧城乡供水信息化监控平台</text>
  <path d="M1806 146 L1808 126 L1815 120 L1826 122 L1833 112 L1840 113.5 L1848 107 L1858 110 L1868 108 L1878 110 L1885 113 L1890 120 L1886 130 L1879 135 L1870 136.5 L1869 146 L1861 150.5 L1848 149 L1838 151 L1826 150.5 L1816 154.5 L1809 153.5 Z" fill="#0e2a66" transform="translate(0,2.6)"/>
  <path d="M1806 146 L1808 126 L1815 120 L1826 122 L1833 112 L1840 113.5 L1848 107 L1858 110 L1868 108 L1878 110 L1885 113 L1890 120 L1886 130 L1879 135 L1870 136.5 L1869 146 L1861 150.5 L1848 149 L1838 151 L1826 150.5 L1816 154.5 L1809 153.5 Z" fill="url(#l1map)" stroke="#3fa9e8" stroke-width=".6" stroke-linejoin="round"/>
  <path d="M1826 122 L1829 136 L1822 150 M1840 113.5 L1843 128 L1838 151 M1858 110 L1856 126 L1861 150.5 M1829 136 L1843 128 L1856 126 L1870 122 L1885 113 M1870 122 L1870 136.5" fill="none" stroke="#58b8ee" stroke-width=".35" opacity=".85"/>
  <g fill="#2fb0c8" opacity=".9"><rect x="1834" y="113" width="7" height="1.6"/><rect x="1858" y="117.6" width="6" height="1.6"/><rect x="1876" y="114" width="7" height="1.6"/><rect x="1809" y="126" width="6" height="1.6"/><rect x="1833" y="125.6" width="8" height="1.6"/><rect x="1864" y="125.4" width="9" height="1.6"/><rect x="1829" y="137.2" width="7" height="1.6"/><rect x="1811" y="141.6" width="6" height="1.6"/><rect x="1856" y="142" width="7" height="1.6"/></g>
  <rect x="1819.6" y="143" width="1.4" height="1.8" fill="#e8405a"/>
  <path d="M1869 146 L1880 152 L1889 162 L1888.5 168" fill="none" stroke="#c9d6ee" stroke-width=".5" opacity=".8"/>
  <path d="M1808 92 h3 M1808 96 h3 M1808 100 h3" stroke="#3fd0c0" stroke-width="1"/><path d="M1812.5 87.6 h6 M1812.5 93.6 h7 M1812.5 98.6 h6" stroke="#8fb0e0" stroke-width=".7"/>
  <rect x="1869.6" y="170.4" width="22.6" height="11.4" fill="#143a82" stroke="#2c66bd" stroke-width=".4"/>
  <circle cx="1872.4" cy="177" r="1.1" fill="#e02c3c"/><circle cx="1878" cy="177" r="1.1" fill="#f08a2a"/><circle cx="1883.4" cy="177" r="1.1" fill="#f3d63a"/><circle cx="1889" cy="177" r="1.1" fill="#2a9df4"/>
  <rect x="1807.6" y="178.6" width="4.4" height="3.2" fill="#1d4f9e"/><rect x="1813.4" y="178.6" width="7" height="3.2" fill="#1d4f9e"/>
</g>
<!-- right panel -->
<g>
  <path d="M1894 83.8 h9" stroke="#38e0d0" stroke-width="1.1"/>
  <path d="M1896 88 h8 M1908 88 h6" stroke="#cfe0f5" stroke-width="1.1"/>
  <g fill="#1c4a9c"><rect x="1894" y="90.6" width="41" height="3.2"/><rect x="1894" y="95.6" width="41" height="3.2"/><rect x="1894" y="100.2" width="41" height="3.2"/><rect x="1894" y="104.8" width="41" height="3.2"/><rect x="1894" y="109.4" width="41" height="3.2"/><rect x="1894" y="114" width="41" height="3.2"/><rect x="1894" y="118.6" width="41" height="3.2"/></g>
  <path d="M1896 92.2 h38 M1896 97.2 h38 M1896 101.8 h38 M1896 106.4 h38 M1896 111 h38 M1896 115.6 h38 M1896 120.2 h38" stroke="#b9cff0" stroke-width=".8" stroke-dasharray="7 4 1 8 5 3 4 9"/>
  <path d="M1894.4 138 h8 M1905 138 h7" stroke="#38e0c0" stroke-width="1.2"/>
  <path d="M1895 141.6 h6 M1903 141.6 h6" stroke="#cfe0f5" stroke-width=".8"/>
  <g fill="#1c4a9c"><rect x="1894" y="144" width="41" height="3"/><rect x="1894" y="148.4" width="41" height="3"/><rect x="1894" y="152.6" width="41" height="3"/><rect x="1894" y="156.8" width="41" height="3"/><rect x="1894" y="161" width="41" height="3"/><rect x="1894" y="165.2" width="41" height="3"/><rect x="1894" y="169.4" width="41" height="3"/></g>
  <path d="M1896 145.5 h38 M1896 149.9 h38 M1896 154.1 h38 M1896 158.3 h38 M1896 162.5 h38 M1896 166.7 h38 M1896 170.9 h38" stroke="#b9cff0" stroke-width=".8" stroke-dasharray="2 3 7 4 3 4 6 3 4 3"/>
</g>
<text x="1850.4" y="191.4" font-size="2.5" font-weight="700" fill="#9a9a9a" text-anchor="middle">MacBook Pro</text>
<!-- base -->
<use href="#lbase" x="1726.1" y="193.6"/>
<path d="M1833.6 193.6 H1865.8 V194.4 Q1865.8 196.3 1863.6 196.3 H1835.8 Q1833.6 196.3 1833.6 194.4 Z" fill="#8f8f8f"/>
<rect x="1954.6" y="196.8" width="7" height="1" rx=".5" fill="#6e6e6e"/>
</svg>
<svg style="position:absolute;left:1700px;top:462px" width="262" height="150" viewBox="1700 462 262 150">
<defs>
  <linearGradient id="l2blue" gradientUnits="userSpaceOnUse" x1="1760" y1="474" x2="1810" y2="586"><stop offset="0" stop-color="#179be0"/><stop offset=".45" stop-color="#1f86ec"/><stop offset="1" stop-color="#2b69f6"/></linearGradient>
  <linearGradient id="l2btn" x1="0" y1="0" x2="1" y2="0"><stop offset="0" stop-color="#2a6ef2"/><stop offset="1" stop-color="#1b8bf0"/></linearGradient>
  <linearGradient id="l2cyl" x1="0" y1="0" x2="0" y2="1"><stop offset="0" stop-color="#ffffff"/><stop offset="1" stop-color="#b9d6fa"/></linearGradient>
  <g id="cyl"><ellipse cx="0" cy="6.2" rx="4.4" ry="1.7" fill="#e6f1ff" opacity=".9"/><path d="M-2.9 -3.4 V4.6 Q0 6 2.9 4.6 V-3.4 Z" fill="url(#l2cyl)" opacity=".95"/><ellipse cx="0" cy="-3.4" rx="2.9" ry="1.1" fill="#fff"/><path d="M-2.9 .2 Q0 1.6 2.9 .2 M-2.9 2.2 Q0 3.6 2.9 2.2" stroke="#7fb0f0" stroke-width=".5" fill="none"/></g>
</defs>
<path d="M1737.6 591.9 V474.4 Q1737.6 470 1742 470 H1918.7 Q1923.1 470 1923.1 474.4 V591.9 Z" fill="#050505"/>
<path d="M1853 470 H1918.7 Q1923.1 470 1923.1 474.4 V480 H1921.4 V474.4 Q1921.4 472.6 1919 472.6 H1856 Z" fill="#585a5c"/>
<rect x="1742.1" y="474.1" width="178.3" height="111.6" fill="#ffffff"/>
<rect x="1742.1" y="474.1" width="104.1" height="111.6" fill="url(#l2blue)"/>
<!-- hex / streak decorations -->
<g opacity=".07" fill="#ffffff"><polygon points="1745,476 1760,476 1768,490 1760,504 1745,504"/><polygon points="1800,474.1 1830,474.1 1838,488 1830,502 1806,502 1796,488"/></g>
<g stroke="#7fd8ff" stroke-width=".9" opacity=".55"><path d="M1753.4 529 V560"/><path d="M1761.6 552 V575"/><path d="M1830 546 V572"/><path d="M1838 541 V552"/><path d="M1795 566 V582" opacity=".5"/><path d="M1803 576 V585" opacity=".5"/></g>
<!-- logo -->
<text x="1749.4" y="480.6" font-size="3.2" font-weight="700" fill="#ffffff">物通博联</text>
<!-- illustration -->
<g>
  <path d="M1775 533 L1786 527 L1799 533 L1810 527 L1822 533 M1786 527 V515 M1799 533 L1792 547 L1780 553 M1810 527 L1816 519" fill="none" stroke="#cfe6ff" stroke-width=".45" opacity=".8"/>
  <!-- server stack -->
  <g>
    <path d="M1764 512 L1770.4 508.6 L1776.8 512 V526 L1770.4 529.6 L1764 526 Z" fill="#e9f2ff"/>
    <path d="M1770.4 515.4 V529.6 L1776.8 526 V512 Z" fill="#b6d2f8"/>
    <path d="M1764 512 L1770.4 508.6 L1776.8 512 L1770.4 515.4 Z" fill="#3c7df0"/>
    <path d="M1764 516.6 L1770.4 520 L1776.8 516.6 M1764 521.2 L1770.4 524.6 L1776.8 521.2" stroke="#6fa4f2" stroke-width=".6" fill="none"/>
    <circle cx="1770.4" cy="506" r=".8" fill="#fff"/>
  </g>
  <!-- cloud -->
  <path d="M1795 508 q-1.4 -4.6 3 -4.8 q1.6 -2.6 4.2 -.8 q3 .4 2.2 3.6 q.8 3 -2 3.4 z" fill="#1fb6f2"/>
  <rect x="1798.6" y="509.4" width="1.5" height="4" fill="#f07848"/>
  <rect x="1781.6" y="500" width="1.4" height="4.6" fill="#f07848"/><circle cx="1782.3" cy="499.4" r=".9" fill="#fff"/>
  <!-- location pin -->
  <path d="M1797.4 516 a3.6 3.6 0 1 1 -.1 0 m0 7.2 l-1.6 -1.2 h3.2 z" fill="none" stroke="#d9ecff" stroke-width=".5"/>
  <!-- person on platform -->
  <ellipse cx="1792.4" cy="538" rx="12" ry="1" fill="#e9f3ff"/>
  <path d="M1788.6 526.6 l2.8 -1 l1.6 5.4 l5 1.8 l-.6 1.6 l-6.6 -1.2 z" fill="#ffffff"/>
  <path d="M1793 531 l5.4 -1.8 l.8 2.2 l-4.6 2.4 z" fill="#2fc3c8"/>
  <path d="M1794.8 533 l4.8 2.8 l-.6 1 l-5.6 -1.8 z" fill="#1f2f5c"/>
  <circle cx="1789.8" cy="524.8" r="1.2" fill="#f3c9a8"/><path d="M1788.6 524 q1.2 -1.6 2.6 -.2" stroke="#1f2f5c" stroke-width=".7" fill="none"/>
  <circle cx="1783.4" cy="533" r="2.5" fill="none" stroke="#e3f0ff" stroke-width=".5"/><path d="M1781.8 534.8 l3.2 -3.6" stroke="#e3f0ff" stroke-width=".5"/>
  <!-- excavator -->
  <path d="M1808 519.6 l4 -2.8 l5.4 1.4 l.2 3.4 l-5 2.8 l-4.6 -2 z" fill="#eaf2ff"/>
  <path d="M1809 522.6 l6 2.6 l1.6 -1 l.2 1.6 l-2.6 1.6 l-6 -2.6 z" fill="#263a6e"/>
  <path d="M1815 517.6 l5.8 -3.4 l4.4 1 l.4 11" fill="none" stroke="#2b3f72" stroke-width="1.1" stroke-linejoin="round"/>
  <!-- robot arm -->
  <path d="M1770.6 538.6 l2.6 5.6 l3 1.6 l-1 2.2 l-3.8 -2 l-2.6 -6 z" fill="#d9e9ff"/>
  <path d="M1774.6 544.6 l3 -1.6 l.8 1.4 l-2.8 1.8 z" fill="#9cc3f6"/>
  <path d="M1770 549.6 l5.4 -2.8 l4.4 2.4 l-5.4 3 z" fill="#1f3f9a"/>
  <path d="M1764 532.6 l3.6 -1.6 l2.6 1.6 l-3.6 1.8 z" fill="#34c6cf"/><rect x="1764.6" y="528.4" width="1" height="3" fill="#f07848"/>
  <circle cx="1776" cy="535" r="1.9" fill="#eef5ff"/><circle cx="1818.4" cy="552.6" r="1.8" fill="#eef5ff"/>
  <use href="#cyl" x="1794.6" y="552"/><use href="#cyl" x="1804.6" y="546"/><use href="#cyl" x="1815.2" y="539.6"/>
  <rect x="1807.6" y="536.6" width="1.1" height="4" fill="#f07848"/><rect x="1809.6" y="535.6" width="1.1" height="5" fill="#34c6cf"/>
</g>
<!-- right login pane -->
<path d="M1904.4 479.4 h2" stroke="#777" stroke-width=".5"/><circle cx="1909.5" cy="478.5" r=".9" fill="none" stroke="#777" stroke-width=".5"/><path d="M1913.2 477.7 l1.6 1.6 m0 -1.6 l-1.6 1.6" stroke="#777" stroke-width=".5"/>
<text x="1882.9" y="504.8" font-size="4.9" font-weight="700" fill="#3a86f4" text-anchor="middle">设备维护快线</text>
<text x="1861.6" y="514.8" font-size="2.3" font-weight="700" fill="#444">账号</text>
<rect x="1861.5" y="516.5" width="43" height="6.7" rx="1" fill="#fff" stroke="#e2e5ea" stroke-width=".5"/>
<text x="1863.2" y="520.7" font-size="2.2" fill="#b5b9c0">请输入设备账号/手机号</text>
<text x="1861.6" y="527.8" font-size="2.3" font-weight="700" fill="#444">密码</text>
<rect x="1861.5" y="529.5" width="43" height="6.7" rx="1" fill="#fff" stroke="#e2e5ea" stroke-width=".5"/>
<text x="1863.2" y="533.7" font-size="2.2" fill="#b5b9c0">请输入登录密码</text>
<rect x="1861.6" y="538.3" width="1.3" height="1.3" fill="none" stroke="#5a9af5" stroke-width=".3"/><text x="1863.6" y="539.7" font-size="2.1" fill="#3b86f3">记住密码</text>
<rect x="1861.3" y="545.2" width="42.7" height="7.5" rx="1.3" fill="url(#l2btn)"/>
<text x="1882.6" y="549.9" font-size="2.4" fill="#fff" text-anchor="middle">登录</text>
<text x="1882.9" y="578.9" font-size="1.9" fill="#c4c7cc" text-anchor="middle">Device Tunnel V1.0.7.152</text>
<text x="1882.9" y="582" font-size="2.1" fill="#8f939a" text-anchor="middle">厦门物通博联网络科技有限公司</text>
<text x="1830.3" y="589.9" font-size="2.7" font-weight="700" fill="#a2a2a2" text-anchor="middle">MacBook Pro</text>
<!-- base -->
<use href="#lbase" x="1706" y="591.9" transform="translate(0,0)"/>
<path d="M1813.2 591.9 H1846.8 V593.6 Q1846.8 595.8 1844.4 595.8 H1815.6 Q1813.2 595.8 1813.2 593.6 Z" fill="#8f8f8f"/>
<rect x="1934.6" y="595.4" width="7" height="1" rx=".5" fill="#6e6e6e"/>
</svg>
<svg style="position:absolute;left:1770px;top:812px" width="106" height="184" viewBox="1770 812 106 184">
<defs>
  <linearGradient id="phBg" x1="0" y1="0" x2="0" y2="1"><stop offset="0" stop-color="#0d4560"/><stop offset=".3" stop-color="#115a6e"/><stop offset=".55" stop-color="#1c7880"/><stop offset=".72" stop-color="#3f9e9c"/><stop offset=".88" stop-color="#7fccc4"/><stop offset="1" stop-color="#9fe0d6"/></linearGradient>
  <linearGradient id="phBtn" x1="0" y1="0" x2="0" y2="1"><stop offset="0" stop-color="#2fa4f4"/><stop offset="1" stop-color="#1a84e2"/></linearGradient>
  <linearGradient id="phGloss" x1="0" y1="0" x2="1" y2="1"><stop offset="0" stop-color="#4a4a4a"/><stop offset="1" stop-color="#151515"/></linearGradient>
  <radialGradient id="phCloud" cx=".5" cy=".5" r=".5"><stop offset="0" stop-color="#d8f4ee" stop-opacity=".75"/><stop offset="1" stop-color="#d8f4ee" stop-opacity="0"/></radialGradient>
  <clipPath id="phClip"><rect x="1783.1" y="836.1" width="80.4" height="131.8"/></clipPath>
</defs>
<rect x="1780.1" y="821.3" width="86" height="165.6" rx="11" ry="11" fill="#070707"/>
<path d="M1822 822 H1855 Q1865.4 822 1865.4 832.4 V836 H1836 Z" fill="url(#phGloss)" opacity=".8"/>
<rect x="1818" y="826.2" width="10" height="1.2" rx=".6" fill="#2a2a2a"/><circle cx="1852" cy="827" r=".8" fill="#222"/>
<rect x="1783.1" y="836.1" width="80.4" height="131.8" fill="url(#phBg)"/>
<g clip-path="url(#phClip)">
  <ellipse cx="1795" cy="938" rx="18" ry="12" fill="url(#phCloud)"/><ellipse cx="1822" cy="930" rx="20" ry="13" fill="url(#phCloud)"/><ellipse cx="1850" cy="936" rx="18" ry="13" fill="url(#phCloud)"/>
  <ellipse cx="1808" cy="955" rx="24" ry="12" fill="url(#phCloud)"/><ellipse cx="1842" cy="958" rx="24" ry="12" fill="url(#phCloud)"/><ellipse cx="1786" cy="960" rx="14" ry="10" fill="url(#phCloud)"/>
</g>
<text x="1823.3" y="865.4" font-size="7.1" fill="#ffffff" text-anchor="middle">分布式设备云平台</text>
<rect x="1797.8" y="878.2" width="51.4" height="10.5" rx="1.8" fill="#f3f3f3"/>
<text x="1800.6" y="884.5" font-size="2.9" fill="#666">admin@wlbl</text>
<rect x="1797.8" y="892.9" width="51.4" height="10.4" rx="1.8" fill="#f3f3f3"/>
<text x="1800.6" y="899.6" font-size="3.2" fill="#777" style="letter-spacing:.2px">••••••••••</text>
<rect x="1799" y="908.1" width="26.6" height="9.7" rx="1.6" fill="#efefef"/>
<text x="1802.2" y="914.1" font-size="2.7" fill="#9a9a9a">请输入验证码</text>
<rect x="1829.3" y="909.4" width="17.9" height="9.1" fill="#ffffff"/>
<text x="1831" y="916.4" font-size="5.2" font-weight="700" font-style="italic" fill="#58c04a">7<tspan fill="#7a48d8">3</tspan><tspan fill="#e04a8a">p</tspan><tspan fill="#3a8ae8">4</tspan></text>
<rect x="1797.8" y="922.4" width="51.4" height="9.6" rx="1.6" fill="url(#phBtn)"/>
<text x="1823.5" y="928.5" font-size="3.5" fill="#ffffff" text-anchor="middle">立即登录</text>
<circle cx="1823.1" cy="955.2" r="3" fill="#dff6f2" opacity=".9"/><path d="M1822 953.6 v3.2 m2.2 -3.2 v3.2" stroke="#3ba7a7" stroke-width=".6"/>
<text x="1823.6" y="962.9" font-size="3.3" fill="#197a88" text-anchor="middle">Copyright 厦门物通博联 2017</text>
<g fill="none" stroke="#8a8a8a" stroke-width=".6"><path d="M1807.4 969.6 l-1.6 1.2 l1.6 1.2"/><path d="M1821.6 971.8 l1.6 -1.6 l1.6 1.6"/><rect x="1840" y="969.8" width="2.4" height="2"/></g>
<circle cx="1823.1" cy="977.5" r="2.5" fill="none" stroke="#b5b5b5" stroke-width=".8"/>
</svg>
</body>
</html>
